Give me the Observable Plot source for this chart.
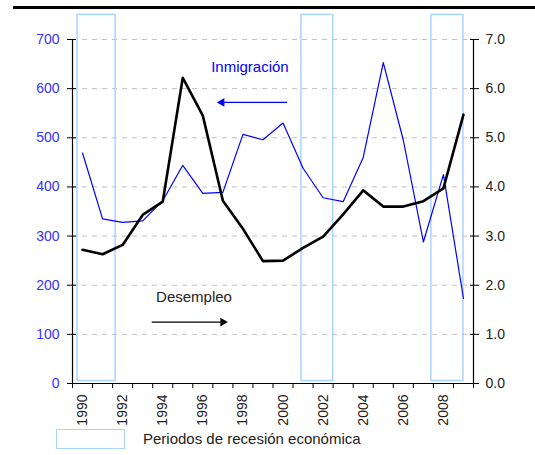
<!DOCTYPE html>
<html><head><meta charset="utf-8">
<script src="https://cdn.jsdelivr.net/npm/d3@7"></script>
<script src="https://cdn.jsdelivr.net/npm/@observablehq/plot@0.6"></script>
<style>
body{margin:0;background:#fff;font-family:"Liberation Sans",Arial,sans-serif;}
#wrap{position:relative;width:535px;height:455px;overflow:hidden;}
#topline{position:absolute;left:13px;top:6px;width:522px;height:3px;background:#000;}
#chart{position:absolute;left:0;top:0;}
#legend{position:absolute;left:0;top:0;width:535px;height:455px;pointer-events:none;}
#legend .box{position:absolute;left:56px;top:429px;width:67px;height:18px;border:1.5px solid #a8d4ff;}
#legend .lbl{position:absolute;left:143px;top:430px;font-size:15px;line-height:17px;color:#222;}
</style></head><body>
<div id="wrap">
<div id="chart"></div>
<div id="topline"></div>
<div id="legend"><span class="box"></span><span class="lbl">Periodos de recesión económica</span></div>
</div>
<script>
const years = [1990,1991,1992,1993,1994,1995,1996,1997,1998,1999,2000,2001,2002,2003,2004,2005,2006,2007,2008,2009];
const inmigracion = [469,335,328,331,372,444,387,389,507,496,530,438,378,370,460,653,495,288,425,173];
const desempleo = [2.72,2.63,2.82,3.43,3.70,6.22,5.45,3.72,3.15,2.49,2.50,2.76,2.99,3.44,3.93,3.60,3.60,3.71,3.97,5.47];
const recesiones = [
  {start:1989.75, end:1991.65, lo:5, hi:750},
  {start:2000.92, end:2002.5, lo:5, hi:750},
  {start:2007.4, end:2009.0, lo:5, hi:750}
];
const leftTicks = [0,100,200,300,400,500,600,700];
const rightTicks = [0.0,1.0,2.0,3.0,4.0,5.0,6.0,7.0];
const yearLabels = [1990,1992,1994,1996,1998,2000,2002,2004,2006,2008];
const gridVals = [100,200,300,400,500,600,700];
const xDomain = [1989.5, 2009.5];
const yDomain = [0, 700];
const annotInm = {label:"Inmigración", tx:1998.35, ty:643, ax1:2000.2, ax2:1996.95, ay:572};
const annotDes = {label:"Desempleo", tx:1995.56, ty:175, ax1:1993.45, ax2:1997.0, ay:125};

const rows = years.map((y,i) => ({year:y, inm:inmigracion[i], des:desempleo[i]*100}));
const boundaries = d3.range(xDomain[0], xDomain[1] + 0.01, 1);
const BLUE = "#0000ff";

const chart = Plot.plot({
  width: 535, height: 430,
  marginLeft: 72, marginRight: 62, marginTop: 39, marginBottom: 47,
  style: {fontFamily: '"Liberation Sans", Arial, sans-serif', fontSize: "14px", background: "transparent"},
  x: {domain: xDomain, axis: null},
  y: {domain: yDomain, axis: null},
  marks: [
    Plot.ruleY(gridVals, {x1: xDomain[0], x2: xDomain[1], stroke: "#c0c0c0", strokeDasharray: "5,5", strokeWidth: 1}),
    Plot.rect(recesiones, {x1: "start", x2: "end", y1: "lo", y2: "hi", fill: "none", stroke: "#a8d4ff", strokeWidth: 1.5}),
    Plot.line(rows, {x: "year", y: "inm", stroke: BLUE, strokeWidth: 1.2}),
    Plot.line(rows, {x: "year", y: "des", stroke: "#000", strokeWidth: 2.6}),
    Plot.ruleX([xDomain[0]], {y1: yDomain[0], y2: yDomain[1], stroke: "#000", strokeWidth: 1.2}),
    Plot.ruleX([xDomain[1]], {y1: yDomain[0], y2: yDomain[1], stroke: "#000", strokeWidth: 1.2}),
    Plot.ruleY([yDomain[0]], {x1: xDomain[0], x2: xDomain[1], stroke: "#000", strokeWidth: 1.2}),
    Plot.axisY({ticks: leftTicks, tickSize: 9, dx: 4, tickPadding: 8, label: null, color: "#3333ff", fontSize: 14, stroke: "#000"}),
    Plot.axisY({anchor: "right", ticks: leftTicks, tickFormat: (d, i) => rightTicks[i].toFixed(1), tickSize: 9, dx: -4, tickPadding: 7, label: null, color: "#222", fontSize: 14, stroke: "#000"}),
    Plot.axisX({ticks: boundaries, tickSize: 5, tickFormat: () => "", label: null, stroke: "#000"}),
    Plot.axisX({ticks: yearLabels, tickSize: 0, tickRotate: -90, tickPadding: 11, tickFormat: d => String(d), label: null, color: "#222", fontSize: 14}),
    Plot.text([annotInm], {x: "tx", y: "ty", text: "label", fill: BLUE, fontSize: 15}),
    Plot.link([annotInm], {x1: "ax1", x2: "ax2", y1: "ay", y2: "ay", stroke: BLUE, strokeWidth: 1.3}),
    Plot.dot([annotInm], {x: "ax2", y: "ay", symbol: "triangle", rotate: -90, r: 3.2, fill: BLUE, stroke: "none"}),
    Plot.text([annotDes], {x: "tx", y: "ty", text: "label", fill: "#222", fontSize: 15}),
    Plot.link([annotDes], {x1: "ax1", x2: "ax2", y1: "ay", y2: "ay", stroke: "#000", strokeWidth: 1.3}),
    Plot.dot([annotDes], {x: "ax2", y: "ay", symbol: "triangle", rotate: 90, r: 3.2, fill: "#000", stroke: "none"})
  ]
});
document.getElementById("chart").appendChild(chart);
</script>
</body></html>
